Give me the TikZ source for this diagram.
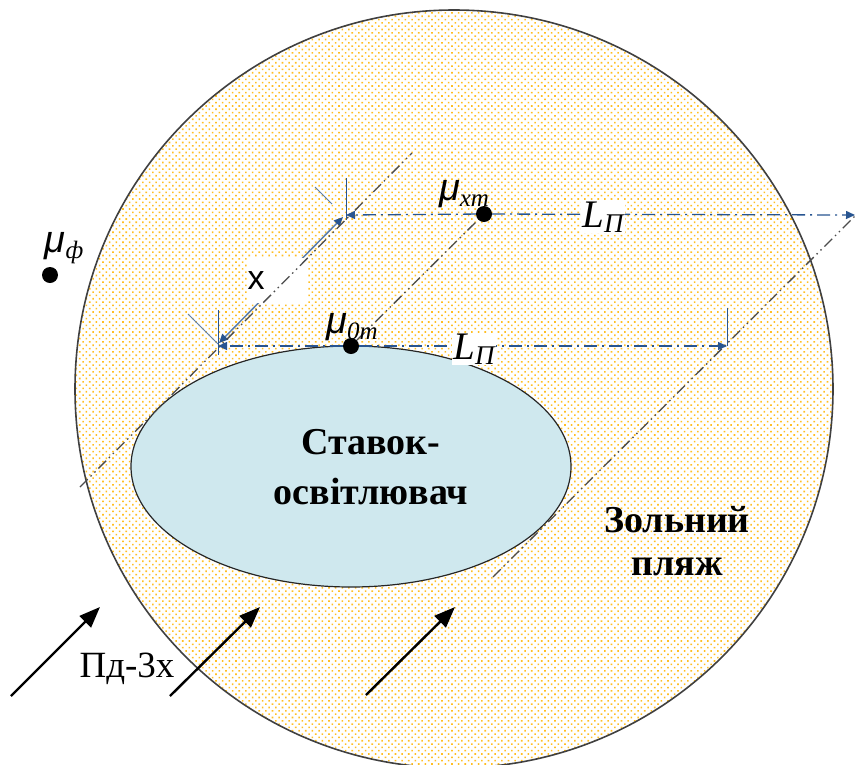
\documentclass[tikz,border=0pt]{standalone}
\usepackage{fontspec}
\setmainfont{Liberation Serif}
\newfontfamily\lsans{Liberation Sans}
\usetikzlibrary{arrows.meta,patterns.meta,shapes.geometric}
\definecolor{dimblue}{RGB}{40,85,145}
\definecolor{dimsteel}{RGB}{90,125,170}
\definecolor{lake}{RGB}{207,232,238}
\definecolor{ash}{RGB}{255,190,35}
\tikzset{
  x=1pt,y=-1pt,
  beach/.style={draw=black!75,line width=1.6pt,pattern={Dots[distance=4.7pt,radius=1.12pt,angle=45]},pattern color=ash},
  lakeshape/.style={draw=black!85,line width=1.2pt,fill=lake},
  axisline/.style={draw=black!70,line width=1.3pt,dash pattern=on 11pt off 4pt on 1.5pt off 4pt on 1.5pt off 4pt},
  dimline/.style={draw=dimblue,line width=1.3pt,dash pattern=on 13pt off 5pt on 2pt off 5pt},
  arrowblue/.style={-{Triangle[length=9pt,width=8pt]},dimblue},
  tickline/.style={draw=dimblue,line width=0.9pt},
  tickgrey/.style={draw=dimsteel,line width=0.9pt},
  xline/.style={draw=dimsteel,line width=1.5pt,{Triangle[length=9pt,width=8pt,color=dimblue]}-{Triangle[length=9pt,width=8pt,color=dimblue]}},
  bigarrow/.style={draw=black,line width=2.4pt,-{Triangle[length=21pt,width=16pt]}},
  blackdot/.style={circle,fill=black,inner sep=0pt,minimum size=16pt},
  whitelabel/.style={fill=white,inner sep=1pt},
  mulabel/.style={inner sep=0pt,font=\fontsize{38}{38}\selectfont},
  boldlabel/.style={inner sep=0pt,align=center,font=\fontsize{38}{50}\selectfont\bfseries},
  ashlabel/.style={inner sep=0pt,align=center,font=\fontsize{38}{43}\selectfont\bfseries},
}
\newcommand{\mysub}[1]{\raisebox{-6pt}{\fontsize{25}{25}\selectfont\itshape #1}}
\newcommand{\muglyph}{{\lsans\itshape μ}}
\begin{document}
\begin{tikzpicture}
\useasboundingbox (0,0) rectangle (855,764);
\begin{scope}
\clip (0,0) rectangle (855,764);
\node[beach,circle,minimum size=758pt,inner sep=0pt] (pond) at (454,389) {};
\end{scope}
\node[lakeshape,ellipse,minimum width=440pt,minimum height=241pt,inner sep=0pt] (lake) at (351,466.5) {};

\coordinate (a0) at (80,487);
\coordinate (a1) at (412,153);
\coordinate (b0) at (493,577);
\coordinate (b1) at (855,216);
\coordinate (p1) at (218,346);
\coordinate (p2) at (346,215);
\coordinate (p3) at (727,346);
\coordinate (p4) at (855,215);

\node[blackdot] (m0) at (351,346) {};
\node[blackdot] (mx) at (484,214) {};
\node[blackdot] (mf) at (50,275) {};

\coordinate (x0) at (219,343);
\coordinate (x1) at (343,217);
\draw[xline] (x0) -- (x1);
\node[whitelabel,minimum width=60pt,minimum height=45pt] (xbox) at (277.5,280) {};

\draw[axisline] (a0) -- (a1);
\draw[axisline] (m0) -- (mx);
\draw[axisline] (b0) -- (b1);
\draw[dimline,arrowblue] (m0) -- (p1);
\draw[dimline,arrowblue] (m0) -- (p3);
\draw[dimline,arrowblue] (mx) -- (p2);
\draw[dimline,arrowblue] (mx) -- (p4);

\coordinate (t1a) at (218,310); \coordinate (t1b) at (218,355);
\coordinate (t2a) at (346,178); \coordinate (t2b) at (346,220);
\coordinate (t3a) at (727,308); \coordinate (t3b) at (727,346);
\coordinate (d1a) at (188,314); \coordinate (d1b) at (218,344);
\coordinate (d2a) at (315,187); \coordinate (d2b) at (332,204);
\draw[tickline] (t1a) -- (t1b);
\draw[tickline] (t2a) -- (t2b);
\draw[tickline] (t3a) -- (t3b);
\draw[tickgrey] (d1a) -- (d1b);
\draw[tickgrey] (d2a) -- (d2b);

\node[inner sep=0pt,font=\lsans\fontsize{34}{34}\selectfont] (xlab) at (256,281) {x};

\node[whitelabel] (l1) at (474,349) {\fontsize{39}{39}\selectfont\itshape L\raisebox{-5pt}{\fontsize{27}{27}\selectfont П}};
\node[whitelabel] (l2) at (603,217) {\fontsize{39}{39}\selectfont\itshape L\raisebox{-5pt}{\fontsize{27}{27}\selectfont П}};

\node[mulabel] (mu0) at (352,327) {\muglyph\mysub{0m}};
\node[mulabel] (mux) at (464,194) {\muglyph\mysub{xm}};
\node[mulabel] (muf) at (64,248) {\muglyph\mysub{ф}};

\node[boldlabel] (lakelab) at (371,467) {Ставок-\\освітлювач};
\node[ashlabel] (ashlab) at (677,541) {Зольний\\пляж};

\coordinate (s1) at (11,696); \coordinate (e1) at (100,607);
\coordinate (s2) at (170,696); \coordinate (e2) at (260,607);
\coordinate (s3) at (366,695); \coordinate (e3) at (455,607);
\draw[bigarrow] (s1) -- (e1);
\draw[bigarrow] (s2) -- (e2);
\draw[bigarrow] (s3) -- (e3);
\node[inner sep=0pt,font=\fontsize{37}{37}\selectfont] (pd) at (127,669) {Пд-3х};
\end{tikzpicture}
\end{document}
